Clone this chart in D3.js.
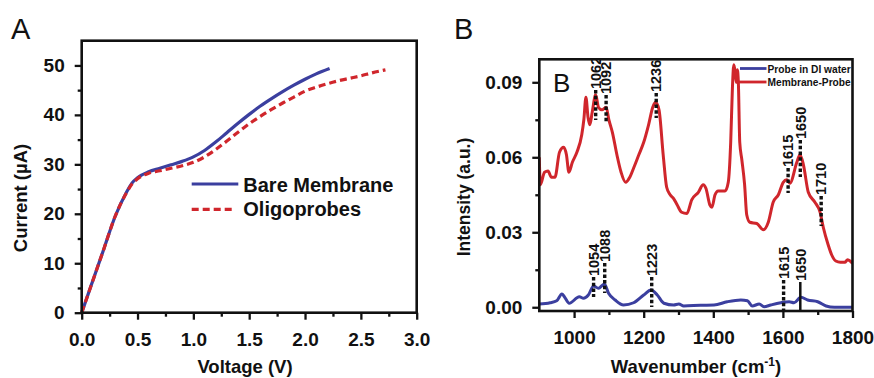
<!DOCTYPE html>
<html>
<head>
<meta charset="utf-8">
<script src="https://cdn.jsdelivr.net/npm/d3@7"></script>
<style>
body{margin:0;background:#fff}
text{font-family:"Liberation Sans",Arial,Helvetica,sans-serif}
</style>
</head>
<body>
<svg id="fig"></svg>
<script>
// ---- panel A : I-V curves ----
const voltage_bare = [0,0.1,0.2,0.3,0.4,0.45,0.5,0.6,0.7,0.8,0.9,1.0,1.1,1.2,1.3,1.4,1.5,1.6,1.7,1.8,1.9,2.0,2.1,2.22]
const current_bare = [0,6.5,13,19.5,24.3,26.2,27.3,28.5,29.2,29.9,30.6,31.5,32.8,34.5,36.4,38.3,40.1,41.8,43.3,44.7,46,47.2,48.3,49.4]
const voltage_oligo = [0,0.1,0.2,0.3,0.4,0.45,0.5,0.6,0.7,0.8,0.9,1.0,1.1,1.2,1.3,1.4,1.5,1.6,1.7,1.8,1.9,2.0,2.1,2.2,2.3,2.4,2.5,2.6,2.72]
const current_oligo = [0,6.5,13,19.5,24.2,26,27.1,28.2,28.7,29.2,29.7,30.4,31.5,33,34.7,36.5,38.2,39.7,41.1,42.4,43.6,44.8,45.6,46.3,46.9,47.4,47.9,48.5,49.1]
const iv_names = ['Bare Membrane','Oligoprobes']
const volt_ticks = [0,0.5,1,1.5,2,2.5,3]
const volt_minor = [0.25,0.75,1.25,1.75,2.25,2.75]
const curr_ticks = [0,10,20,30,40,50]
const curr_minor = [5,15,25,35,45]

// ---- panel B : Raman spectra ----
const wn_water = [900,931,950,965,972,986,1015,1027,1041,1056,1070,1087,1099,1118,1142,1171,1200,1221,1239,1258,1286,1301,1315,1363,1402,1440,1479,1498,1512,1532,1546,1565,1594,1618,1632,1652,1671,1700,1724,1748,1800]
const int_water = [0.0013,0.0018,0.0026,0.0053,0.0042,0.0016,0.0042,0.0036,0.0049,0.0085,0.0076,0.0093,0.0056,0.0029,0.0009,0.0018,0.0049,0.0069,0.0049,0.0016,0.0009,0.0013,0.0005,0.0008,0.0009,0.0022,0.0029,0.0026,0.0005,0.0013,0.0002,0.0009,0.0018,0.0022,0.0018,0.004,0.0029,0.0022,0.0005,0,0]
const wn_membrane = [900,903,915,925,935,945,958,970,978,985,995,1008,1022,1028,1034,1040,1045,1052,1062,1070,1080,1092,1100,1110,1123,1135,1148,1160,1172,1186,1200,1214,1226,1234,1244,1256,1266,1276,1286,1296,1309,1324,1338,1357,1371,1379,1390,1396,1405,1414,1434,1443,1450,1455,1459,1463,1466,1469,1472,1476,1482,1490,1496,1505,1525,1544,1558,1572,1587,1601,1611,1620,1640,1649,1659,1673,1692,1707,1716,1730,1740,1752,1765,1778,1786,1793,1800]
const int_membrane = [0.060,0.049,0.054,0.0545,0.052,0.052,0.062,0.064,0.061,0.054,0.058,0.062,0.069,0.075,0.084,0.076,0.073,0.078,0.085,0.080,0.079,0.080,0.075,0.070,0.061,0.054,0.050,0.052,0.056,0.061,0.066,0.073,0.080,0.082,0.079,0.061,0.048,0.045,0.0435,0.041,0.038,0.0375,0.043,0.046,0.049,0.0475,0.041,0.040,0.045,0.0465,0.0465,0.050,0.066,0.088,0.097,0.094,0.090,0.095,0.090,0.066,0.059,0.049,0.037,0.034,0.0335,0.031,0.034,0.042,0.045,0.050,0.051,0.0496,0.058,0.061,0.057,0.046,0.042,0.038,0.032,0.025,0.021,0.0185,0.018,0.018,0.019,0.0185,0.0175]
const raman_names = ['Probe in DI water','Membrane-Probe']
const wn_ticks = [1000,1200,1400,1600,1800]
const wn_minor = [1100,1300,1500,1700]
const int_ticks = [0,0.03,0.06,0.09]
const int_minor = [0.015,0.045,0.075]
// peak markers: label, wavenumber of the marker, top and bottom of the dotted line
const peak_labels = ['1062','1092','1236','1615','1650','1710','1054','1088','1223','1615','1650']
const peak_at = [1062,1092,1236,1615,1650,1710,1056,1088,1223,1602,1650]
const peak_top = [0.0869,0.0849,0.0857,0.0557,0.0669,0.0445,0.0121,0.0177,0.0121,0.0109,0.0101]
const peak_bottom = [0.0749,0.0742,0.0757,0.0457,0.0521,0.0325,0.0041,0.0057,0.0001,-0.0011,-0.0015]
const peak_solid = [false,false,false,false,false,false,false,false,false,false,true]

const BLUE = '#3b3f9f'
const RED = '#d0262c'

const svg = d3.select('#fig').attr('width', 874).attr('height', 378)

function frame(cfg){
    const g = svg.append('g')
    const xs = cfg.x, ys = cfg.y
    const [x0, x1] = xs.range(), [y0, y1] = ys.range()

    const tickStyle = sel => {
        sel.select('.domain').remove()
        sel.selectAll('line').attr('stroke', '#111').attr('stroke-width', 2.3)
        sel.selectAll('text').attr('fill', '#111').attr('font-size', 19).attr('font-weight', 'bold')
    }

    g.append('g').attr('transform', `translate(0,${y0})`)
        .call(d3.axisBottom(xs).tickValues(cfg.xminor).tickSize(4).tickFormat(''))
        .call(tickStyle)
    g.append('g').attr('transform', `translate(0,${y0})`)
        .call(d3.axisBottom(xs).tickValues(cfg.xticks).tickSize(7).tickPadding(13).tickFormat(cfg.xfmt))
        .call(tickStyle)
    g.append('g').attr('transform', `translate(${x0},0)`)
        .call(d3.axisLeft(ys).tickValues(cfg.yminor).tickSize(4).tickFormat(''))
        .call(tickStyle)
    g.append('g').attr('transform', `translate(${x0},0)`)
        .call(d3.axisLeft(ys).tickValues(cfg.yticks).tickSize(7).tickPadding(10).tickFormat(cfg.yfmt))
        .call(tickStyle)

    g.append('rect')
        .attr('x', x0).attr('y', y1)
        .attr('width', x1 - x0).attr('height', y0 - y1)
        .attr('fill', 'none').attr('stroke', '#111').attr('stroke-width', 2.6)
    return g
}

// ================= panel A =================
const xA = d3.scaleLinear().domain([0, 3]).range([81.7, 416.7])
const yA = d3.scaleLinear().domain([0, 55]).range([312.7, 40.7])

const lineA = d3.line().x(d => xA(d[0])).y(d => yA(d[1])).curve(d3.curveMonotoneX)
const bare = voltage_bare.map((v, i) => [v, current_bare[i]])
const oligo = voltage_oligo.map((v, i) => [v, current_oligo[i]])

svg.append('path').attr('d', lineA(bare))
    .attr('fill', 'none').attr('stroke', BLUE).attr('stroke-width', 3.2)
svg.append('path').attr('d', lineA(oligo))
    .attr('fill', 'none').attr('stroke', RED).attr('stroke-width', 3.2)
    .attr('stroke-dasharray', '7,4')

frame({x: xA, y: yA, xticks: volt_ticks, xminor: volt_minor, yticks: curr_ticks, yminor: curr_minor,
    xfmt: d3.format('.1f'), yfmt: d3.format('d')})

// legend A
const legA = svg.append('g')
legA.append('line').attr('x1', 191.7).attr('x2', 238.3).attr('y1', 184).attr('y2', 184)
    .attr('stroke', BLUE).attr('stroke-width', 3.2)
legA.append('line').attr('x1', 191.7).attr('x2', 234).attr('y1', 209.3).attr('y2', 209.3)
    .attr('stroke', RED).attr('stroke-width', 3.2).attr('stroke-dasharray', '7,4')
legA.selectAll('text').data(iv_names).enter().append('text')
    .attr('x', 243.3).attr('y', (d, i) => 191.5 + i * 24)
    .attr('font-size', 20).attr('font-weight', 'bold').attr('fill', '#111')
    .text(d => d)

svg.append('text').attr('x', 245).attr('y', 373).attr('text-anchor', 'middle')
    .attr('font-size', 18.5).attr('font-weight', 'bold').attr('fill', '#111')
    .text('Voltage (V)')
svg.append('text').attr('transform', 'translate(27,198) rotate(-90)').attr('text-anchor', 'middle')
    .attr('font-size', 18.5).attr('font-weight', 'bold').attr('fill', '#111')
    .text('Current (\u00b5A)')
svg.append('text').attr('x', 11).attr('y', 39).attr('font-size', 29).attr('fill', '#111').text('A')

// ================= panel B =================
const xB = d3.scaleLinear().domain([900, 1800]).range([539.3, 852.5])
const yB = d3.scaleLinear().domain([-0.0015, 0.0992]).range([311, 59.3])

svg.append('clipPath').attr('id', 'clipB').append('rect')
    .attr('x', 539.3).attr('y', 59.3).attr('width', 852.5 - 539.3).attr('height', 311 - 59.3)

const lineB = d3.line().x(d => xB(d[0])).y(d => yB(d[1])).curve(d3.curveMonotoneX)
const water = wn_water.map((w, i) => [w, int_water[i]])
const membrane = wn_membrane.map((w, i) => [w, int_membrane[i]])

const plotB = svg.append('g').attr('clip-path', 'url(#clipB)')
plotB.append('path').attr('d', lineB(water))
    .attr('fill', 'none').attr('stroke', BLUE).attr('stroke-width', 3)
plotB.append('path').attr('d', lineB(membrane))
    .attr('fill', 'none').attr('stroke', RED).attr('stroke-width', 3)

// peak markers
const peaks = peak_labels.map((l, i) => ({label: l, at: peak_at[i], top: peak_top[i], bottom: peak_bottom[i], solid: peak_solid[i]}))
plotB.selectAll('.pk').data(peaks).enter().append('line')
    .attr('x1', d => xB(d.at)).attr('x2', d => xB(d.at))
    .attr('y1', d => yB(d.top)).attr('y2', d => yB(d.bottom))
    .attr('stroke', '#111').attr('stroke-width', d => d.solid ? 2.5 : 3.4)
    .attr('stroke-dasharray', d => d.solid ? null : '3.5,2.2')
plotB.selectAll('.pkt').data(peaks).enter().append('text')
    .attr('transform', d => `translate(${xB(d.at)},${yB(d.top) - 1}) rotate(-90)`)
    .attr('dy', '0.36em')
    .attr('font-size', 14.5).attr('font-weight', 'bold').attr('fill', '#111')
    .text(d => d.label)

frame({x: xB, y: yB, xticks: wn_ticks, xminor: wn_minor, yticks: int_ticks, yminor: int_minor,
    xfmt: d3.format('d'), yfmt: d3.format('.2f')})

// legend B
const legB = svg.append('g')
legB.append('line').attr('x1', 740).attr('x2', 766.5).attr('y1', 68.5).attr('y2', 68.5)
    .attr('stroke', BLUE).attr('stroke-width', 2.8)
legB.append('line').attr('x1', 737).attr('x2', 766.5).attr('y1', 82).attr('y2', 82)
    .attr('stroke', RED).attr('stroke-width', 2.8)
legB.selectAll('text').data(raman_names).enter().append('text')
    .attr('x', 767.5).attr('y', (d, i) => 73.3 + i * 12.5)
    .attr('font-size', 10.2).attr('font-weight', 'bold').attr('fill', '#111')
    .text(d => d)

svg.append('text').attr('x', 553).attr('y', 92).attr('font-size', 26).attr('fill', '#111').text('B')

const wlab = svg.append('text').attr('x', 696).attr('y', 373).attr('text-anchor', 'middle')
    .attr('font-size', 18.5).attr('font-weight', 'bold').attr('fill', '#111')
wlab.append('tspan').text('Wavenumber (cm')
wlab.append('tspan').attr('dy', -7).attr('font-size', 12).text('-1')
wlab.append('tspan').attr('dy', 7).text(')')

svg.append('text').attr('transform', 'translate(470,197) rotate(-90)').attr('text-anchor', 'middle')
    .attr('font-size', 17.5).attr('font-weight', 'bold').attr('fill', '#111')
    .text('Intensity (a.u.)')
svg.append('text').attr('x', 454).attr('y', 39).attr('font-size', 29).attr('fill', '#111').text('B')
</script>
</body>
</html>
